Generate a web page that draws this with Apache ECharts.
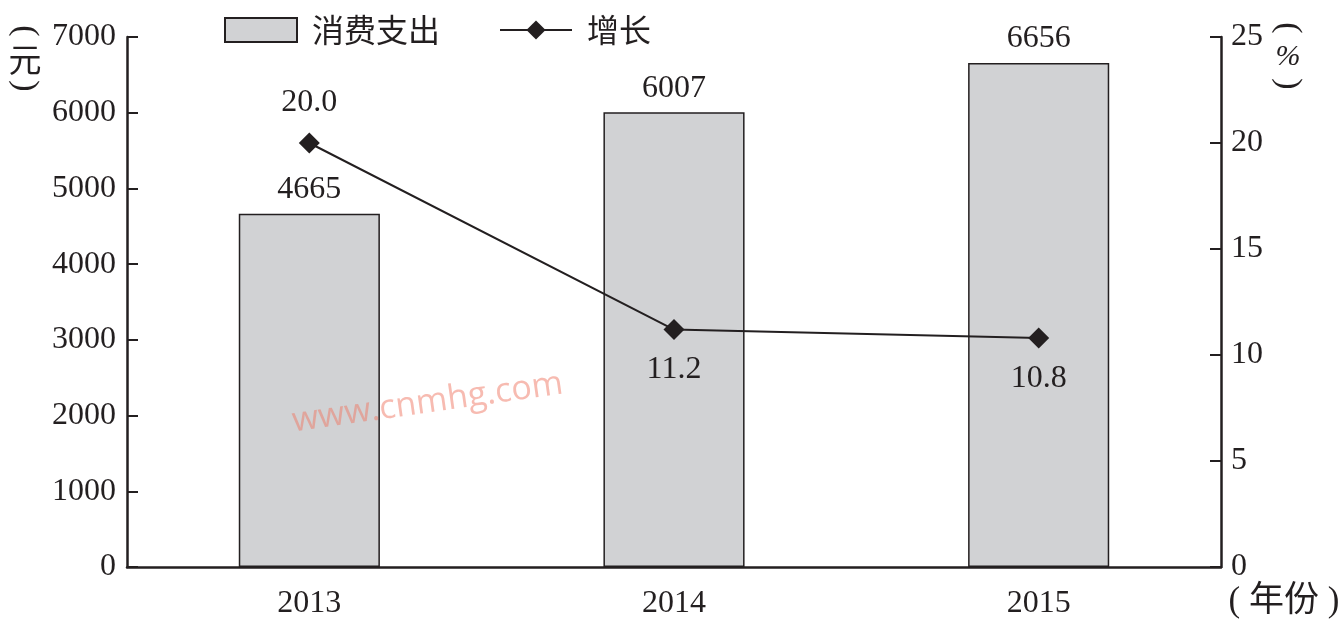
<!DOCTYPE html>
<html><head><meta charset="utf-8">
<script src="https://cdn.jsdelivr.net/npm/echarts@6/dist/echarts.min.js"></script>
<style>html,body{margin:0;padding:0;background:#fff}#c{width:1343px;height:622px}</style>
</head><body><div id="c"></div>
<script>
const categories = ['2013', '2014', '2015'];
const spending = [4665, 6007, 6656];
const growth = [20.0, 11.2, 10.8];
const leftTicks = [0, 7000, 1000];
const rightTicks = [0, 25, 5];

const serif = '"Liberation Serif", "Times New Roman", serif';
const cjk = '"Noto Sans CJK SC", sans-serif';
const mixed = '"Liberation Serif", "Noto Sans CJK SC", serif';
const ink = '#231f20';

const chart = echarts.init(document.getElementById('c'));
chart.setOption({
  animation: false,
  backgroundColor: '#fff',
  grid: { left: 127, right: 122, top: 37, bottom: 55 },
  legend: {
    left: 219, top: 9, itemWidth: 72, itemHeight: 24, itemGap: 59,
    textStyle: { fontFamily: cjk, fontSize: 32, color: ink, padding: [0,0,0,10] },
    data: [
      { name: '消费支出', icon: 'rect', itemStyle: { color: '#d1d2d4', borderColor: ink, borderWidth: 2 } },
      { name: '增长' }
    ]
  },
  xAxis: {
    type: 'category', data: categories,
    axisLine: { lineStyle: { color: ink, width: 2.5 } },
    axisTick: { inside: true, length: 10, lineStyle: { color: ink, width: 2 } },
    axisLabel: { fontFamily: serif, fontSize: 32, color: ink, margin: 21 }
  },
  yAxis: [
    {
      type: 'value', min: leftTicks[0], max: leftTicks[1], interval: leftTicks[2],
      axisLine: { show: true, lineStyle: { color: ink, width: 2.5 } },
      axisTick: { show: true, inside: true, length: 11, lineStyle: { color: ink, width: 2 } },
      axisLabel: { fontFamily: serif, fontSize: 32, color: ink, margin: 11, formatter: v => String(v) },
      splitLine: { show: false }
    },
    {
      type: 'value', min: rightTicks[0], max: rightTicks[1], interval: rightTicks[2],
      axisLine: { show: true, lineStyle: { color: ink, width: 2.5 } },
      axisTick: { show: true, inside: true, length: 11, lineStyle: { color: ink, width: 2 } },
      axisLabel: { fontFamily: serif, fontSize: 32, color: ink, margin: 10 },
      splitLine: { show: false }
    }
  ],
  series: [
    {
      name: '消费支出', type: 'bar', data: spending, barWidth: '38.7%',
      itemStyle: { color: '#d1d2d4', borderColor: ink, borderWidth: 1.5 },
      label: { show: true, position: 'top', distance: 8, fontFamily: serif, fontSize: 32, color: ink }
    },
    {
      name: '增长', type: 'line', yAxisIndex: 1,
      data: growth.map((v, i) => ({ value: v, label: { position: i === 0 ? 'top' : 'bottom' } })),
      symbol: 'diamond', symbolSize: 21,
      lineStyle: { color: ink, width: 2 },
      itemStyle: { color: ink },
      label: { show: true, distance: 14, fontFamily: serif, fontSize: 32, color: ink, formatter: p => p.value.toFixed(1) }
    }
  ],
  graphic: [
    { type: 'text', x: 25, y: 31, rotation: -Math.PI / 2, style: { text: '(', fontFamily: serif, fontSize: 34, fill: ink, align: 'center', verticalAlign: 'middle' } },
    { type: 'text', x: 25, y: 59, style: { text: '元', fontFamily: cjk, fontSize: 33, fill: ink, align: 'center', verticalAlign: 'middle' } },
    { type: 'text', x: 25, y: 86, rotation: -Math.PI / 2, style: { text: ')', fontFamily: serif, fontSize: 34, fill: ink, align: 'center', verticalAlign: 'middle' } },
    { type: 'text', x: 1288, y: 28, rotation: -Math.PI / 2, style: { text: '(', fontFamily: serif, fontSize: 34, fill: ink, align: 'center', verticalAlign: 'middle' } },
    { type: 'text', x: 1288, y: 57, style: { text: '%', fontFamily: serif, fontSize: 30, fontStyle: 'italic', fill: ink, align: 'center', verticalAlign: 'middle' } },
    { type: 'text', x: 1288, y: 84, rotation: -Math.PI / 2, style: { text: ')', fontFamily: serif, fontSize: 34, fill: ink, align: 'center', verticalAlign: 'middle' } },
    { type: 'text', x: 1284, y: 602, style: { text: '( 年份 )', fontFamily: mixed, fontSize: 35, fill: ink, align: 'center', verticalAlign: 'middle' } },
    { type: 'text', x: 290, y: 405, z: 100, rotation: 0.14, style: { text: 'www.cnmhg.com', fontFamily: '"Open Sans", sans-serif', fontSize: 34, fill: 'rgba(240,120,100,0.5)' } }
  ]
});
</script></body></html>
